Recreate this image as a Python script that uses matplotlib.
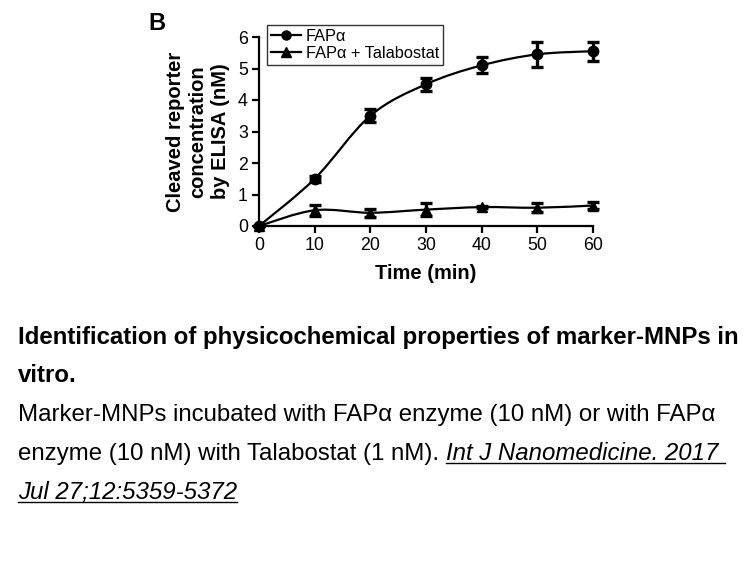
import numpy as np
import matplotlib
matplotlib.use("Agg")
import matplotlib.pyplot as plt
from matplotlib.path import Path
from matplotlib.patches import PathPatch
from matplotlib.lines import Line2D

plt.rcParams['font.family'] = ['Liberation Sans', 'DejaVu Sans']

time = [0, 10, 20, 30, 40, 50, 60]
fap = [0, 1.5, 3.5, 4.5, 5.1, 5.45, 5.55]
fap_err = [0, 0.1, 0.2, 0.2, 0.25, 0.4, 0.3]
tal = [0, 0.5, 0.42, 0.52, 0.6, 0.58, 0.65]
tal_err = [0, 0.18, 0.12, 0.2, 0.02, 0.15, 0.12]
labels = ["FAP\u03b1", "FAP\u03b1 + Talabostat"]

fig = plt.figure(figsize=(7.56, 5.67), dpi=100)
ax = fig.add_axes([259/756, 1-226/567, (593-259)/756, (226-37)/567])


def smooth_path(x, y):
    # Catmull-Rom as cubic Bezier, drawn in data coordinates
    x = np.asarray(x, float); y = np.asarray(y, float)
    verts = [(x[0], y[0])]; codes = [Path.MOVETO]
    n = len(x)
    for i in range(n - 1):
        p0 = (x[max(i-1, 0)], y[max(i-1, 0)])
        p1 = (x[i], y[i]); p2 = (x[i+1], y[i+1])
        p3 = (x[min(i+2, n-1)], y[min(i+2, n-1)])
        c1 = (p1[0] + (p2[0]-p0[0])/6, p1[1] + (p2[1]-p0[1])/6)
        c2 = (p2[0] - (p3[0]-p1[0])/6, p2[1] - (p3[1]-p1[1])/6)
        verts += [c1, c2, p2]; codes += [Path.CURVE4]*3
    return Path(verts, codes)

for ys, err, mk, ms in [(fap, fap_err, 'o', 7.5), (tal, tal_err, '^', 7.5)]:
    ax.add_patch(PathPatch(smooth_path(time, ys), fill=False, lw=1.6, ec='black', zorder=2))
    ax.errorbar(time, ys, yerr=err, fmt=mk, ms=ms, color='black', ecolor='black',
                elinewidth=2.4, capsize=4.5, capthick=2.4, zorder=3, clip_on=False)

ax.set_xlim(0, 60)
ax.set_ylim(0, 6)
ax.set_xticks([0, 10, 20, 30, 40, 50, 60])
ax.set_yticks([0, 1, 2, 3, 4, 5, 6])
for s in ['top', 'right']:
    ax.spines[s].set_visible(False)
for s in ['left', 'bottom']:
    ax.spines[s].set_linewidth(1.6)
ax.tick_params(direction='out', length=5, width=1.6, labelsize=12.8, pad=3)
ax.set_xlabel("Time (min)", fontsize=14.5, fontweight='bold', labelpad=7)
ax.set_ylabel("Cleaved reporter\nconcentration\nby ELISA (nM)", fontsize=14.5,
              fontweight='bold', labelpad=6, linespacing=1.22)

handles = [Line2D([], [], color='black', marker='o', ms=6.5, lw=1.6),
           Line2D([], [], color='black', marker='^', ms=6.5, lw=1.6)]
leg = ax.legend(handles, labels, loc='upper left', bbox_to_anchor=(0.024, 1.063),
                fontsize=11.8, frameon=True, fancybox=False, edgecolor='black',
                borderpad=0.25, labelspacing=0.1, handlelength=1.8, handletextpad=0.3,
                borderaxespad=0)
leg.get_frame().set_linewidth(1.0)

fig.text(148/756, 1-23/567, "B", fontsize=17, fontweight='bold', va='center', ha='left')

fs = 17.3
fig.text(18/756, 1-344/567, "Identification of physicochemical properties of marker-MNPs in",
         fontsize=fs, fontweight='bold', va='baseline', ha='left')
fig.text(18/756, 1-382/567, "vitro.", fontsize=fs, fontweight='bold', va='baseline', ha='left')
fig.text(18/756, 1-421/567, "Marker-MNPs incubated with FAP\u03b1 enzyme (10 nM) or with FAP\u03b1",
         fontsize=fs, va='baseline', ha='left')
t1 = fig.text(18/756, 1-460/567, "enzyme (10 nM) with Talabostat (1 nM). ",
              fontsize=fs, va='baseline', ha='left')

fig.canvas.draw()
r = fig.canvas.get_renderer()
bb = t1.get_window_extent(r)
x_cit = bb.x1 / fig.bbox.width
c1 = fig.text(x_cit, 1-460/567, "Int J Nanomedicine. 2017 ", fontsize=fs, style='italic',
              va='baseline', ha='left')
c2 = fig.text(18/756, 1-499/567, "Jul 27;12:5359-5372", fontsize=fs, style='italic',
              va='baseline', ha='left')
fig.canvas.draw()
for c, ybase in ((c1, 460), (c2, 499)):
    b = c.get_window_extent(r)
    yl = 1 - (ybase + 3) / 567
    fig.add_artist(Line2D([b.x0/fig.bbox.width, b.x1/fig.bbox.width], [yl, yl],
                          color='black', lw=1.0, transform=fig.transFigure))

fig.savefig("out.png", dpi=100)
